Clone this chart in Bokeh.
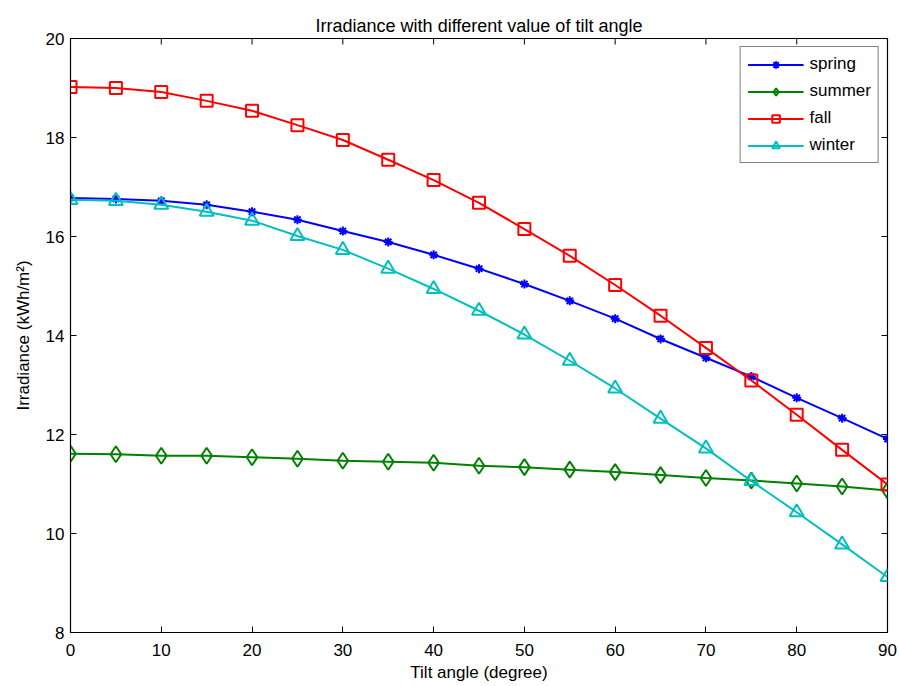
import math
from bokeh.plotting import figure
from bokeh.models import LinearAxis, FixedTicker, Range1d, Legend, LegendItem
from bokeh.embed import file_html
from bokeh.resources import INLINE

# Tilt angles (degrees) and seasonal irradiance (kWh/m^2)
tilt = [0, 5, 10, 15, 20, 25, 30, 35, 40, 45, 50, 55, 60, 65, 70, 75, 80, 85, 90]
spring = [16.78, 16.76, 16.72, 16.64, 16.50, 16.34, 16.11, 15.89, 15.63, 15.35,
          15.04, 14.70, 14.34, 13.93, 13.55, 13.17, 12.74, 12.33, 11.91]
summer = [11.61, 11.60, 11.57, 11.57, 11.54, 11.51, 11.47, 11.45, 11.43, 11.37,
          11.34, 11.29, 11.24, 11.18, 11.12, 11.07, 11.01, 10.95, 10.87]
fall = [19.02, 19.00, 18.92, 18.74, 18.54, 18.25, 17.95, 17.55, 17.14, 16.68,
        16.15, 15.61, 15.02, 14.40, 13.75, 13.09, 12.40, 11.69, 10.99]
winter = [16.74, 16.72, 16.64, 16.50, 16.32, 16.01, 15.73, 15.35, 14.94, 14.50,
          14.02, 13.49, 12.93, 12.32, 11.72, 11.06, 10.43, 9.78, 9.12]

x_ticks = [0, 10, 20, 30, 40, 50, 60, 70, 80, 90]
y_ticks = [8, 10, 12, 14, 16, 18, 20]
X_MIN, X_MAX = 0, 90
Y_MIN, Y_MAX = 8, 20

FONT = "Liberation Sans"
TICK_LEN = 6

p = figure(output_backend="svg", toolbar_location=None,
           x_range=Range1d(X_MIN, X_MAX), y_range=Range1d(Y_MIN, Y_MAX),
           x_axis_location=None, y_axis_location=None,
           min_border_left=70, min_border_right=12,
           min_border_top=38, min_border_bottom=54)
p.frame_width = 817
p.frame_height = 594

p.title.text = "Irradiance with different value of tilt angle"
p.title.align = "center"
p.title.text_font = FONT
p.title.text_font_size = "18px"
p.title.text_font_style = "normal"
p.title.text_color = "black"
p.title.standoff = 6

p.xgrid.visible = False
p.ygrid.visible = False
p.outline_line_color = "black"
p.outline_line_width = 1.2
p.background_fill_color = "white"
p.border_fill_color = "white"


def style_axis(ax, ticks):
    ax.ticker = FixedTicker(ticks=ticks)
    ax.major_tick_in = TICK_LEN
    ax.major_tick_out = 0
    ax.minor_tick_line_color = None
    ax.axis_line_color = "black"
    ax.major_tick_line_color = "black"
    ax.major_label_text_font = FONT
    ax.major_label_text_font_size = "17px"
    ax.major_label_text_color = "black"
    ax.major_label_standoff = 6
    ax.axis_label_text_font = FONT
    ax.axis_label_text_font_size = "17px"
    ax.axis_label_text_font_style = "normal"
    ax.axis_label_text_color = "black"


xb = LinearAxis(axis_label="Tilt angle (degree)")
style_axis(xb, x_ticks)
xb.major_label_standoff = 11
xb.axis_label_standoff = 4
p.add_layout(xb, "below")

yl = LinearAxis(axis_label="Irradiance (kWh/m²)")
style_axis(yl, y_ticks)
yl.axis_label_standoff = 10
p.add_layout(yl, "left")

# inward ticks on the top and right edges of the box
p.ray(x=x_ticks, y=[Y_MAX] * len(x_ticks), length=TICK_LEN, length_units="screen",
      angle=-math.pi / 2, line_color="black", line_width=1)
p.ray(x=[X_MAX] * len(y_ticks), y=y_ticks, length=TICK_LEN, length_units="screen",
      angle=math.pi, line_color="black", line_width=1)

series = [
    ("spring", spring, "#0000FF", "asterisk", 9),
    ("summer", summer, "#008000", "diamond", 16),
    ("fall", fall, "#FF0000", "square", 12),
    ("winter", winter, "#00BFBF", "triangle", 14),
]

items = []
for name, vals, color, marker, size in series:
    ln = p.line(tilt, vals, line_color=color, line_width=2)
    sc = p.scatter(tilt, vals, marker=marker, size=size, line_color=color,
                   fill_color=(color if marker == "asterisk" else None), line_width=2)
    items.append(LegendItem(label=name, renderers=[ln, sc]))

legend = Legend(items=items, location="top_right")
legend.margin = 8
legend.padding = 7
legend.spacing = 7
legend.label_height = 19
legend.glyph_height = 19
legend.glyph_width = 56
legend.label_standoff = 6
legend.label_text_font = FONT
legend.label_text_font_size = "17px"
legend.label_text_color = "black"
legend.border_line_color = "black"
legend.border_line_width = 1.5
legend.background_fill_color = "white"
legend.background_fill_alpha = 1.0
p.add_layout(legend, "center")

open("out.html", "w").write(file_html(p, INLINE))
